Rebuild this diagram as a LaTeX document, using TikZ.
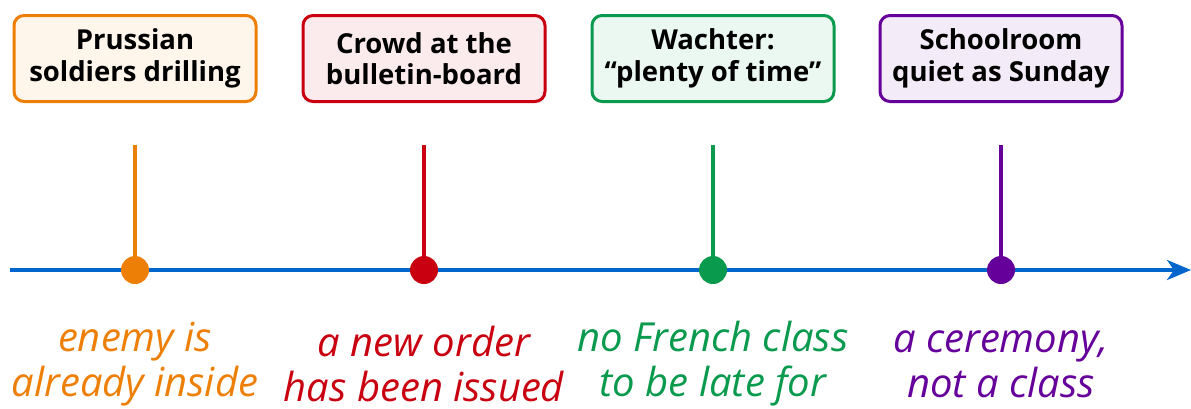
\documentclass[tikz,border=0pt]{standalone}
\usepackage{fontspec}
\setmainfont{Open Sans}
\usetikzlibrary{arrows.meta}
\definecolor{cOr}{HTML}{EE7F06}
\definecolor{cRe}{HTML}{C8000F}
\definecolor{cGr}{HTML}{0A9A4E}
\definecolor{cPu}{HTML}{66009A}
\definecolor{cAx}{HTML}{0066CC}
\tikzset{
  evbox/.style={draw=#1, fill=#1!8, line width=3pt, rounded corners=10pt,
    minimum width=242pt, minimum height=86pt, align=center, inner sep=2pt,
    font=\fontsize{27.5}{31.5}\selectfont\bfseries, text=black},
  stem/.style={draw=#1, line width=3.2pt},
  evdot/.style={circle, fill=#1, minimum size=28pt, inner sep=0pt},
  lbl/.style={text=#1, align=center, font=\fontsize{40}{45}\selectfont\itshape},
  axis/.style={draw=cAx, line width=3.5pt, -{Stealth[length=24pt,width=20pt,inset=7pt]}}
}
\begin{document}
\begin{tikzpicture}[x=1pt,y=-1pt]
\useasboundingbox (0,0) rectangle (1191,408);
\coordinate (ax0) at (10,270);
\coordinate (ax1) at (1191,270);
\draw[axis] (ax0) -- (ax1);
% events
\foreach \n/\x/\c/\t/\l in {
  a/135/cOr/{Prussian\\soldiers drilling}/{enemy is\\already inside},
  b/424/cRe/{Crowd at the\\bulletin-board}/{a new order\\has been issued},
  c/713/cGr/{Wachter:\\“plenty of time”}/{no French class\\to be late for},
  d/1001/cPu/{Schoolroom\\quiet as Sunday}/{a ceremony,\\not a class}}{
  \node[evbox=\c] (box\n) at (\x,58.5) {\t};
  \coordinate (top\n) at (\x,145);
  \node[evdot=\c] (dot\n) at (\x,270) {};
  \draw[stem=\c] (top\n) -- (dot\n.center);
  \node[lbl=\c] (lbl\n) at (\x,364) {\l};
}
\end{tikzpicture}
\end{document}
